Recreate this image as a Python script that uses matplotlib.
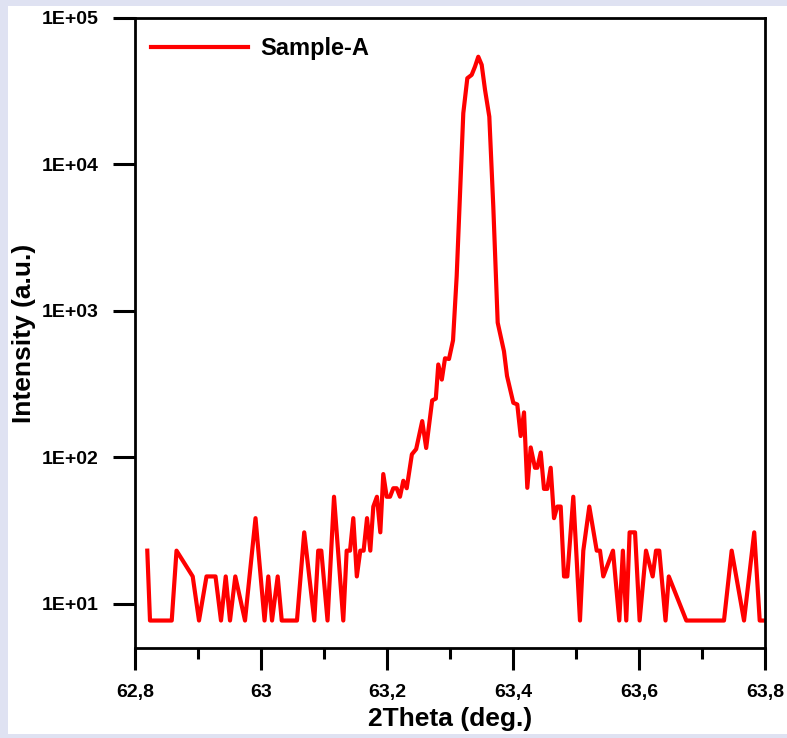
import matplotlib
matplotlib.use("Agg")
import matplotlib.pyplot as plt
import matplotlib.ticker as ticker
from matplotlib.patches import Rectangle

plt.rcParams['font.family'] = ['Liberation Sans', 'DejaVu Sans']
plt.rcParams['font.weight'] = 'bold'

# Digitised XRD scan (vertices of the polyline)
two_theta = [
    62.8195, 62.8238, 62.8583, 62.8659, 62.8916, 62.9016, 62.9135, 62.9278,
    62.9365, 62.9440, 62.9508, 62.9592, 62.9746, 62.9913, 63.0056, 63.0116,
    63.0175, 63.0265, 63.0329, 63.0571, 63.0686, 63.0846, 63.0908, 63.0957,
    63.1056, 63.1159, 63.1306, 63.1360, 63.1413, 63.1465, 63.1521, 63.1576,
    63.1629, 63.1683, 63.1735, 63.1783, 63.1840, 63.1894, 63.1941, 63.1995,
    63.2048, 63.2100, 63.2154, 63.2206, 63.2259, 63.2313, 63.2395, 63.2463,
    63.2559, 63.2622, 63.2717, 63.2775, 63.2814, 63.2870, 63.2921, 63.2984,
    63.3048, 63.3106, 63.3211, 63.3275, 63.3344, 63.3397, 63.3449, 63.3503,
    63.3556, 63.3624, 63.3687, 63.3757, 63.3857, 63.3905, 63.4005, 63.4068,
    63.4122, 63.4175, 63.4227, 63.4281, 63.4349, 63.4386, 63.4440, 63.4492,
    63.4544, 63.4598, 63.4651, 63.4703, 63.4757, 63.4810, 63.4862, 63.4957,
    63.5063, 63.5116, 63.5211, 63.5329, 63.5381, 63.5433, 63.5587, 63.5687,
    63.5744, 63.5798, 63.5851, 63.5937, 63.6010, 63.6111, 63.6217, 63.6270,
    63.6322, 63.6421, 63.6473, 63.6751, 63.7349, 63.7471, 63.7667, 63.7829,
    63.7916, 63.7963,
]
intensity = [
    23.1, 7.7, 7.7, 23.1, 15.4, 7.7, 15.4, 15.4,
    7.7, 15.4, 7.7, 15.4, 7.7, 38.5, 7.7, 15.4,
    7.7, 15.4, 7.7, 7.7, 30.8, 7.7, 23.1, 23.1,
    7.7, 53.9, 7.7, 23.1, 23.1, 38.5, 15.4, 23.1,
    23.1, 38.5, 23.1, 46.2, 53.9, 30.8, 77, 53.9,
    53.9, 61.6, 61.6, 53.9, 69.3, 61.6, 105, 114,
    177, 116, 245, 252, 431, 340, 475, 470,
    630, 1725, 22400, 38800, 40900, 46600, 54400, 47900,
    32300, 21200, 5180, 832, 530, 360, 236, 230,
    140, 203, 62, 117, 85, 85, 108, 61,
    61, 85, 38.5, 46.2, 46.2, 15.4, 15.4, 53.9,
    7.7, 23.1, 46.2, 23.1, 23.1, 15.4, 23.1, 7.7,
    23.1, 7.7, 30.8, 30.8, 7.7, 23.1, 15.4, 23.1,
    23.1, 7.7, 15.4, 7.7, 7.7, 23.1, 7.7, 30.8,
    7.7, 7.7,
]
series_name = "Sample-A"
x_ticks = [62.8, 63.0, 63.2, 63.4, 63.6, 63.8]
x_tick_labels = ["62,8", "63", "63,2", "63,4", "63,6", "63,8"]
y_ticks = [1e1, 1e2, 1e3, 1e4, 1e5]
y_tick_labels = ["1E+01", "1E+02", "1E+03", "1E+04", "1E+05"]

W, H = 787, 738
fig = plt.figure(figsize=(W / 100, H / 100), dpi=100)
fig.patch.set_facecolor("#dfe2f2")
# white panel inside the lavender border
fig.patches.append(Rectangle((8 / W, 1 - 734 / H), 1 - 8 / W, (734 - 6) / H,
                             transform=fig.transFigure, facecolor="white",
                             edgecolor="none", zorder=-10))

ax = fig.add_axes([135 / W, 1 - 648 / H, 630 / W, 630 / H])
ax.set_facecolor("white")

ax.plot(two_theta, intensity, color="#ff0000", lw=3, label=series_name)

ax.set_yscale("log")
ax.set_xlim(62.8, 63.8)
ax.set_ylim(5, 1e5)

ax.set_xticks(x_ticks)
ax.set_xticklabels(x_tick_labels)
ax.xaxis.set_minor_locator(ticker.MultipleLocator(0.1))
ax.set_yticks(y_ticks)
ax.set_yticklabels(y_tick_labels)
ax.yaxis.set_minor_locator(ticker.NullLocator())

ax.tick_params(axis="x", which="major", direction="out", length=16,
               width=2.2, labelsize=14, pad=10)
ax.tick_params(axis="y", which="major", direction="out", length=16,
               width=2.2, labelsize=14, pad=10)
ax.tick_params(axis="x", which="minor", direction="out", length=8, width=2.2)
ax.tick_params(top=False, right=False)
for spine in ax.spines.values():
    spine.set_linewidth(2)

ax.set_xlabel("2Theta (deg.)", fontsize=19, fontweight="bold", labelpad=4)
ax.set_ylabel("Intensity (a.u.)", fontsize=19, fontweight="bold", labelpad=4)

ax.legend(loc="upper left", frameon=False, handlelength=4.1,
          handletextpad=0.5, borderaxespad=0.0, bbox_to_anchor=(0.011, 0.985),
          prop={"weight": "bold", "size": 17})

fig.savefig("out.png", dpi=100, facecolor=fig.get_facecolor())
